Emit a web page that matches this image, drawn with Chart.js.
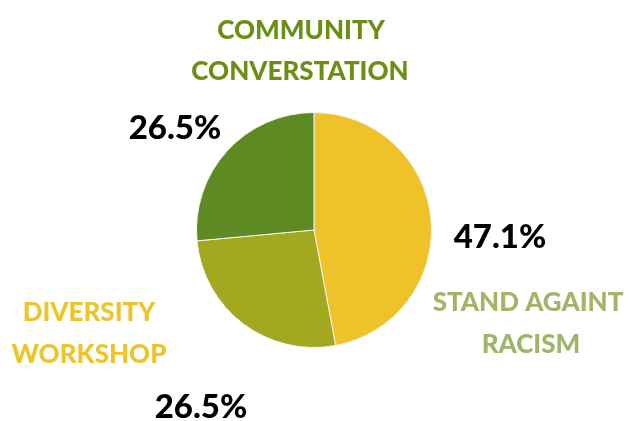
<!DOCTYPE html>
<html>
<head>
<meta charset="utf-8">
<script src="https://cdn.jsdelivr.net/npm/chart.js@4"></script>
<style>
  html, body { margin: 0; padding: 0; background: #ffffff; }
  #wrap { width: 629px; height: 421px; }
</style>
</head>
<body>
<div id="wrap"><canvas id="grafico"></canvas></div>
<script>
// dados do grafico
const categorias = ['STAND AGAINT RACISM', 'DIVERSITY WORKSHOP', 'COMMUNITY CONVERSTATION'];
const valores = [47.1, 26.5, 26.5];
const coresFatias = ['#EEC228', '#A2A820', '#5E8A24'];
const coresRotulos = ['#A2B46A', '#EEC42B', '#6B8E13'];

// posicao dos rotulos (nome em duas linhas + percentual)
const rotulos = [
    { nome: [[528, 303], [531, 345]], linhas: ['STAND AGAINT', 'RACISM'], pct: [500, 237] },
    { nome: [[89, 313], [89, 355]], linhas: ['DIVERSITY', 'WORKSHOP'], pct: [201, 407] },
    { nome: [[301, 31], [300, 72]], linhas: ['COMMUNITY', 'CONVERSTATION'], pct: [175, 128] }
];

const pluginRotulos = {
    id: 'rotulos',
    afterDraw(chart) {
        const ctx = chart.ctx;
        const total = valores.reduce((a, b) => a + b, 0);
        ctx.save();
        ctx.textAlign = 'center';
        ctx.textBaseline = 'middle';
        rotulos.forEach((r, i) => {
            ctx.font = '900 26px Lato, "Open Sans", sans-serif';
            ctx.fillStyle = coresRotulos[i];
            r.linhas.forEach((txt, j) => {
                ctx.fillText(txt, r.nome[j][0], r.nome[j][1]);
            });
            ctx.font = '900 33px Lato, "Open Sans", sans-serif';
            ctx.fillStyle = '#000000';
            const pct = (valores[i] / total * 100).toFixed(1) + '%';
            ctx.fillText(pct, r.pct[0], r.pct[1]);
        });
        ctx.restore();
    }
};

function criargrafico(canvasID){
    const ctx = document.getElementById(canvasID).getContext('2d');

    new Chart(ctx, {
        type: 'pie',
        data: {
            labels: categorias,
            datasets: [{
                data: valores,
                backgroundColor: coresFatias,
                borderColor: '#f4f4ee',
                borderWidth: 1
            }]
        },
        options: {
            responsive: true,
            maintainAspectRatio: false,
            animation: false,
            layout: {
                padding: { left: 196, right: 197, top: 112, bottom: 73 }
            },
            plugins: {
                legend: { display: false },
                tooltip: { enabled: false }
            }
        },
        plugins: [pluginRotulos]
    });
}

criargrafico('grafico');
</script>
</body>
</html>
